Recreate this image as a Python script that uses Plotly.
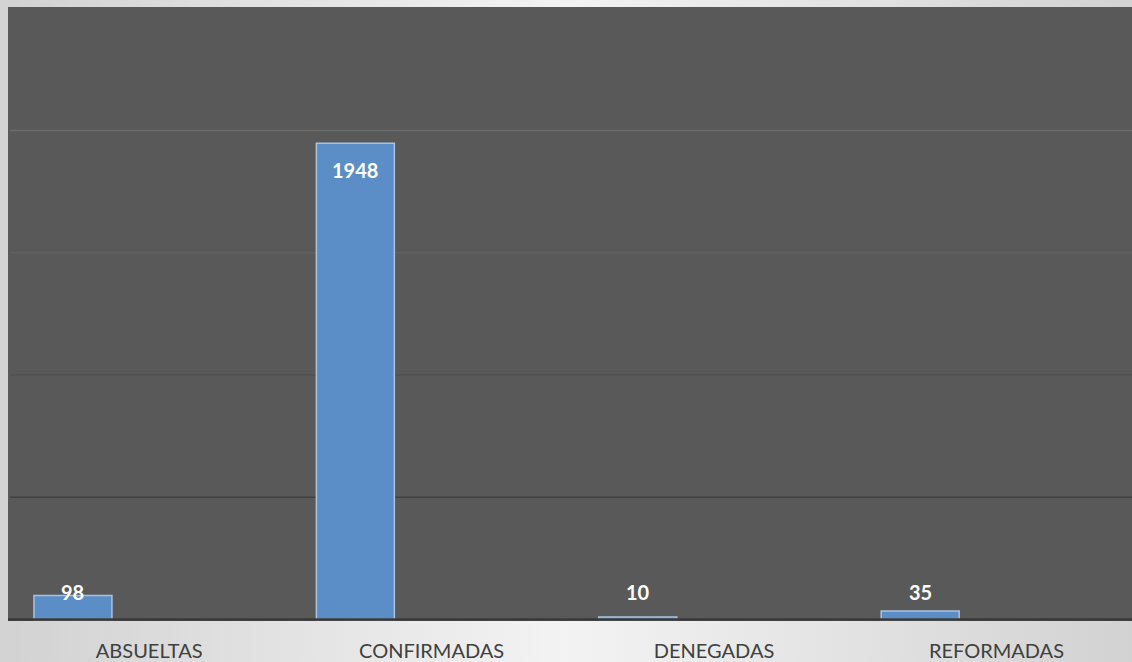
import base64
import plotly.graph_objects as go

categories = ["ABSUELTAS", "CONFIRMADAS", "DENEGADAS", "REFORMADAS"]
values = [98, 1948, 10, 35]
grid_values = [500, 1000, 1500, 2000]
grid_colors = ["#414141", "#505050", "#616161", "#6c6c6c"]

BAR_WIDTH = 0.276
BAR_OFFSET = -0.408
W, H = 1132, 662
ML, MR, MT, MB = 8, 0, 7, 41
PW, PH = W - ML - MR, H - MT - MB

svg = (
    f'<svg xmlns="http://www.w3.org/2000/svg" width="{W}" height="{H}">'
    '<defs><linearGradient id="g" x1="0" y1="0" x2="1" y2="0">'
    '<stop offset="0" stop-color="#d2d2d2"/><stop offset="0.5" stop-color="#f3f3f3"/>'
    '<stop offset="1" stop-color="#d2d2d2"/>'
    '</linearGradient></defs>'
    f'<rect width="{W}" height="{H}" fill="url(#g)"/></svg>'
)
bg_uri = "data:image/svg+xml;base64," + base64.b64encode(svg.encode()).decode()

fig = go.Figure()
fig.add_trace(go.Bar(
    x=categories, y=values,
    width=BAR_WIDTH, offset=BAR_OFFSET,
    marker=dict(color="#5b8ec6", line=dict(color="#a9c3e0", width=1.5)),
    hoverinfo="x+y",
))

shapes = [dict(type="rect", xref="paper", yref="paper", x0=0, x1=1, y0=0, y1=1,
               fillcolor="#595959", line=dict(width=0), layer="below")]
for gv, gc in zip(grid_values, grid_colors):
    shapes.append(dict(type="line", xref="paper", yref="y", x0=2 / PW, x1=1, y0=gv, y1=gv,
                       line=dict(color=gc, width=1.6), layer="below"))
shapes.append(dict(type="line", xref="paper", yref="y", x0=0, x1=1, y0=0, y1=0,
                   line=dict(color="#3a3a3a", width=2.5), layer="above"))

annotations = []
for i, v in enumerate(values):
    xc = i + BAR_OFFSET + BAR_WIDTH / 2
    big = v > 300
    annotations.append(dict(
        x=xc, y=v if big else 0, xref="x", yref="y",
        text=f"<b>{v}</b>", showarrow=False,
        yanchor="top" if big else "bottom",
        yshift=-13 if big else 14,
        font=dict(family="Lato, 'Open Sans', sans-serif", size=20, color="#ffffff"),
    ))

fig.update_layout(
    width=W, height=H, autosize=False,
    margin=dict(l=ML, r=MR, t=MT, b=MB),
    paper_bgcolor="#e4e4e4",
    plot_bgcolor="rgba(0,0,0,0)",
    showlegend=False,
    shapes=shapes,
    annotations=annotations,
    images=[dict(source=bg_uri, xref="paper", yref="paper",
                 x=-ML / PW, y=1 + MT / PH, sizex=W / PW, sizey=H / PH,
                 xanchor="left", yanchor="top", sizing="stretch", layer="below")],
    xaxis=dict(type="category", range=[-0.5, 3.48], showgrid=False, zeroline=False,
               showline=False, ticks="", ticklabelstandoff=16,
               tickfont=dict(family="Lato, 'Open Sans', sans-serif", size=20, color="#404040")),
    yaxis=dict(range=[-6, 2505], showgrid=False, zeroline=False, showline=False,
               showticklabels=False, ticks=""),
)

fig.write_html(
    "out.html",
    config={"displayModeBar": False},
    post_script="document.body.style.margin='0';document.body.style.overflow='hidden';"
                "document.documentElement.style.overflow='hidden';",
)
